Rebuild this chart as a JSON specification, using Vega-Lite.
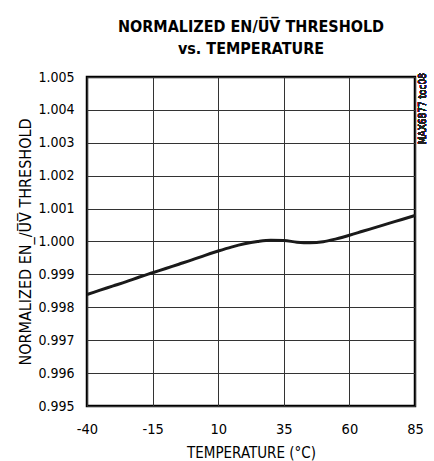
{
  "$schema": "https://vega.github.io/schema/vega-lite/v6.json",
  "width": 328,
  "height": 329,
  "autosize": {"type": "none"},
  "padding": {"left": 87, "top": 77, "right": 19, "bottom": 55},
  "background": "white",
  "title": {
    "text": ["NORMALIZED EN/U̅V̅ THRESHOLD", "vs. TEMPERATURE"],
    "font": "DejaVu Sans Condensed, sans-serif",
    "fontSize": 16,
    "fontWeight": "bold",
    "lineHeight": 22,
    "color": "black",
    "anchor": "middle",
    "offset": 13
  },
  "config": {
    "view": {"stroke": "black", "strokeWidth": 2.5},
    "font": "DejaVu Sans Condensed, sans-serif",
    "axis": {
      "labelFont": "DejaVu Sans Condensed, sans-serif",
      "titleFont": "DejaVu Sans Condensed, sans-serif",
      "labelFontSize": 14,
      "titleFontSize": 15,
      "titleFontWeight": "normal",
      "labelColor": "black",
      "titleColor": "black",
      "ticks": false,
      "domain": false,
      "grid": true,
      "gridColor": "#333",
      "gridWidth": 1,
      "gridOpacity": 1,
      "labelOverlap": false
    }
  },
  "data": {
    "values": [
      {"t": -40, "v": 0.99839},
      {"t": -35, "v": 0.99852},
      {"t": -30, "v": 0.99865},
      {"t": -25, "v": 0.99878},
      {"t": -20, "v": 0.99892},
      {"t": -15, "v": 0.99905},
      {"t": -10, "v": 0.99918},
      {"t": -5, "v": 0.99931},
      {"t": 0, "v": 0.99944},
      {"t": 5, "v": 0.99958},
      {"t": 10, "v": 0.99971},
      {"t": 15, "v": 0.99983},
      {"t": 20, "v": 0.99993},
      {"t": 25, "v": 1.0},
      {"t": 30, "v": 1.00004},
      {"t": 35, "v": 1.00003},
      {"t": 40, "v": 0.99998},
      {"t": 45, "v": 0.99996},
      {"t": 50, "v": 0.99999},
      {"t": 55, "v": 1.00008},
      {"t": 60, "v": 1.00019},
      {"t": 65, "v": 1.00031},
      {"t": 70, "v": 1.00043},
      {"t": 75, "v": 1.00055},
      {"t": 80, "v": 1.00067},
      {"t": 85, "v": 1.00079}
    ]
  },
  "layer": [
    {
      "mark": {"type": "line", "color": "#1a1a1a", "strokeWidth": 3, "interpolate": "monotone"},
      "encoding": {
        "x": {
          "field": "t",
          "type": "quantitative",
          "scale": {"domain": [-40, 85], "nice": false, "zero": false},
          "axis": {
            "values": [-40, -15, 10, 35, 60, 85],
            "labelExpr": "replace(datum.label, '−', '-')",
            "title": "TEMPERATURE (°C)",
            "labelFontSize": 14.5,
            "labelPadding": 16,
            "titlePadding": 10,
            "labelFlush": false,
            "labelOverlap": false
          }
        },
        "y": {
          "field": "v",
          "type": "quantitative",
          "scale": {"domain": [0.995, 1.005], "nice": false, "zero": false},
          "axis": {
            "values": [0.995, 0.996, 0.997, 0.998, 0.999, 1.0, 1.001, 1.002, 1.003, 1.004, 1.005],
            "tickCount": 11,
            "labelExpr": "format(datum.value, '.3f')",
            "title": "NORMALIZED EN_/U̅V̅ THRESHOLD",
            "titleFontSize": 16,
            "labelPadding": 13,
            "titlePadding": 4,
            "labelFlush": false,
            "labelOverlap": false,
            "labelBound": false
          }
        }
      }
    },
    {
      "mark": {
        "type": "text",
        "text": "MAX6877 toc08",
        "angle": -90,
        "align": "right",
        "baseline": "middle",
        "fontSize": 10,
        "font": "DejaVu Sans Condensed, sans-serif",
        "color": "#222",
        "dx": 4,
        "dy": 8
      },
      "encoding": {
        "x": {"datum": 85, "type": "quantitative"},
        "y": {"datum": 1.005, "type": "quantitative"}
      }
    }
  ]
}
